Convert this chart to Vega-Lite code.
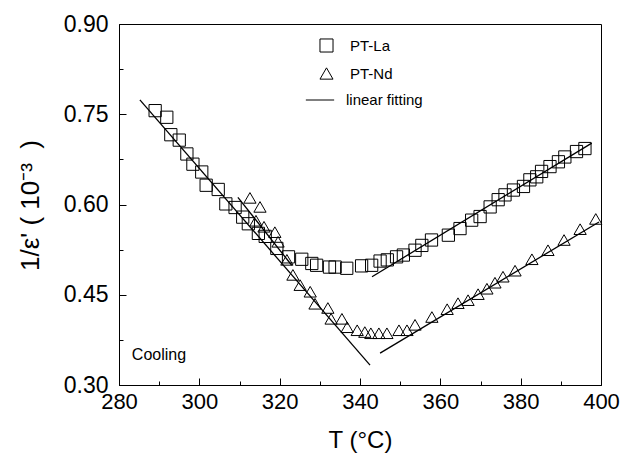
{
  "$schema": "https://vega.github.io/schema/vega-lite/v6.json",
  "width": 482,
  "height": 361,
  "autosize": "none",
  "padding": {"left": 119, "top": 24, "right": 30, "bottom": 78},
  "background": "white",
  "config": {
    "view": {"stroke": "black", "strokeWidth": 1},
    "font": "Liberation Sans",
    "axis": {"domainColor": "black", "tickColor": "black", "labelColor": "black", "titleColor": "black", "grid": false, "titleFontWeight": "normal", "labelFont": "Liberation Sans", "titleFont": "Liberation Sans"}
  },
  "datasets": {
    "pts": [
      {"T": 289.0, "V": 0.756, "s": "PT-La"}, {"T": 291.9, "V": 0.745, "s": "PT-La"}, {"T": 292.9, "V": 0.716, "s": "PT-La"},
      {"T": 295.0, "V": 0.707, "s": "PT-La"}, {"T": 296.9, "V": 0.684, "s": "PT-La"}, {"T": 298.4, "V": 0.667, "s": "PT-La"},
      {"T": 300.6, "V": 0.654, "s": "PT-La"}, {"T": 301.7, "V": 0.632, "s": "PT-La"}, {"T": 304.7, "V": 0.625, "s": "PT-La"},
      {"T": 306.6, "V": 0.601, "s": "PT-La"}, {"T": 308.9, "V": 0.595, "s": "PT-La"}, {"T": 310.8, "V": 0.579, "s": "PT-La"},
      {"T": 312.2, "V": 0.568, "s": "PT-La"}, {"T": 314.7, "V": 0.552, "s": "PT-La"}, {"T": 316.4, "V": 0.547, "s": "PT-La"},
      {"T": 319.3, "V": 0.527, "s": "PT-La"}, {"T": 322.2, "V": 0.513, "s": "PT-La"}, {"T": 325.5, "V": 0.509, "s": "PT-La"},
      {"T": 328.0, "V": 0.502, "s": "PT-La"}, {"T": 329.2, "V": 0.499, "s": "PT-La"}, {"T": 332.4, "V": 0.496, "s": "PT-La"},
      {"T": 333.8, "V": 0.496, "s": "PT-La"}, {"T": 336.7, "V": 0.494, "s": "PT-La"}, {"T": 340.4, "V": 0.498, "s": "PT-La"},
      {"T": 342.9, "V": 0.499, "s": "PT-La"}, {"T": 345.0, "V": 0.506, "s": "PT-La"}, {"T": 346.8, "V": 0.508, "s": "PT-La"},
      {"T": 349.1, "V": 0.513, "s": "PT-La"}, {"T": 350.8, "V": 0.516, "s": "PT-La"}, {"T": 353.7, "V": 0.524, "s": "PT-La"},
      {"T": 355.4, "V": 0.532, "s": "PT-La"}, {"T": 357.8, "V": 0.541, "s": "PT-La"}, {"T": 362.0, "V": 0.549, "s": "PT-La"},
      {"T": 364.9, "V": 0.560, "s": "PT-La"}, {"T": 367.8, "V": 0.574, "s": "PT-La"}, {"T": 369.9, "V": 0.580, "s": "PT-La"},
      {"T": 372.4, "V": 0.596, "s": "PT-La"}, {"T": 374.4, "V": 0.608, "s": "PT-La"}, {"T": 376.1, "V": 0.616, "s": "PT-La"},
      {"T": 378.2, "V": 0.624, "s": "PT-La"}, {"T": 380.7, "V": 0.630, "s": "PT-La"}, {"T": 382.3, "V": 0.641, "s": "PT-La"},
      {"T": 384.0, "V": 0.646, "s": "PT-La"}, {"T": 385.2, "V": 0.655, "s": "PT-La"}, {"T": 387.3, "V": 0.663, "s": "PT-La"},
      {"T": 389.4, "V": 0.671, "s": "PT-La"}, {"T": 391.0, "V": 0.679, "s": "PT-La"}, {"T": 393.9, "V": 0.688, "s": "PT-La"},
      {"T": 396.0, "V": 0.693, "s": "PT-La"},
      {"T": 312.6, "V": 0.611, "s": "PT-Nd"}, {"T": 315.1, "V": 0.596, "s": "PT-Nd"}, {"T": 314.1, "V": 0.573, "s": "PT-Nd"},
      {"T": 316.1, "V": 0.563, "s": "PT-Nd"}, {"T": 318.8, "V": 0.554, "s": "PT-Nd"}, {"T": 319.6, "V": 0.538, "s": "PT-Nd"},
      {"T": 321.8, "V": 0.508, "s": "PT-Nd"}, {"T": 323.3, "V": 0.483, "s": "PT-Nd"}, {"T": 325.1, "V": 0.466, "s": "PT-Nd"},
      {"T": 327.6, "V": 0.455, "s": "PT-Nd"}, {"T": 328.8, "V": 0.435, "s": "PT-Nd"}, {"T": 332.0, "V": 0.428, "s": "PT-Nd"},
      {"T": 332.8, "V": 0.410, "s": "PT-Nd"}, {"T": 335.5, "V": 0.410, "s": "PT-Nd"}, {"T": 336.8, "V": 0.396, "s": "PT-Nd"},
      {"T": 339.3, "V": 0.391, "s": "PT-Nd"}, {"T": 341.2, "V": 0.388, "s": "PT-Nd"}, {"T": 342.7, "V": 0.386, "s": "PT-Nd"},
      {"T": 344.7, "V": 0.386, "s": "PT-Nd"}, {"T": 346.7, "V": 0.386, "s": "PT-Nd"}, {"T": 349.7, "V": 0.391, "s": "PT-Nd"},
      {"T": 351.7, "V": 0.391, "s": "PT-Nd"}, {"T": 353.7, "V": 0.400, "s": "PT-Nd"}, {"T": 357.9, "V": 0.413, "s": "PT-Nd"},
      {"T": 361.7, "V": 0.426, "s": "PT-Nd"}, {"T": 364.4, "V": 0.436, "s": "PT-Nd"}, {"T": 366.9, "V": 0.441, "s": "PT-Nd"},
      {"T": 369.4, "V": 0.451, "s": "PT-Nd"}, {"T": 371.6, "V": 0.460, "s": "PT-Nd"}, {"T": 373.6, "V": 0.470, "s": "PT-Nd"},
      {"T": 375.6, "V": 0.480, "s": "PT-Nd"}, {"T": 378.6, "V": 0.490, "s": "PT-Nd"}, {"T": 382.8, "V": 0.509, "s": "PT-Nd"},
      {"T": 386.8, "V": 0.524, "s": "PT-Nd"}, {"T": 390.8, "V": 0.541, "s": "PT-Nd"}, {"T": 394.8, "V": 0.559, "s": "PT-Nd"},
      {"T": 398.7, "V": 0.576, "s": "PT-Nd"}
    ],
    "fits": [
      {"T": 285.2, "V": 0.774, "line": "a"}, {"T": 342.5, "V": 0.333, "line": "a"},
      {"T": 309.6, "V": 0.612, "line": "b"}, {"T": 323.0, "V": 0.499, "line": "b"},
      {"T": 343.0, "V": 0.480, "line": "c"}, {"T": 397.7, "V": 0.702, "line": "c"},
      {"T": 345.0, "V": 0.353, "line": "d"}, {"T": 399.5, "V": 0.571, "line": "d"}
    ],
    "notes": [
      {"T": 283.2, "V": 0.350, "label": "Cooling"}
    ]
  },
  "encoding": {
    "x": {
      "field": "T", "type": "quantitative",
      "scale": {"domain": [280, 400], "nice": false, "zero": false},
      "axis": {
        "values": [280, 290, 300, 310, 320, 330, 340, 350, 360, 370, 380, 390, 400],
        "labelExpr": "datum.value % 20 == 0 ? format(datum.value, 'd') : ''",
        "tickSize": {"condition": {"test": "datum.value % 20 == 0", "value": -7}, "value": -4},
        "labelPadding": 13,
        "labelFontSize": 22,
        "labelFlush": false,
        "title": "T (°C)",
        "titleFontSize": 24,
        "titleX": 241,
        "titleY": 55,
        "titleBaseline": "middle",
        "titleAlign": "center"
      }
    },
    "y": {
      "field": "V", "type": "quantitative",
      "scale": {"domain": [0.30, 0.90], "nice": false, "zero": false},
      "axis": {
        "values": [0.30, 0.375, 0.45, 0.525, 0.60, 0.675, 0.75, 0.825, 0.90],
        "labelExpr": "round(datum.value * 1000) % 150 == 0 ? format(datum.value, '.2f') : ''",
        "tickSize": {"condition": {"test": "round(datum.value * 1000) % 150 == 0", "value": -7}, "value": -4},
        "labelPadding": 18,
        "labelFontSize": 23,
        "labelFlush": false,
        "title": "1/ε'\u00a0(\u00a010⁻³\u00a0\u00a0)",
        "titleFontSize": 26,
        "titleX": -89,
        "titleY": 181,
        "titleBaseline": "middle",
        "titleAlign": "center"
      }
    }
  },
  "layer": [
    {
      "data": {"name": "fits"},
      "mark": {"type": "line", "strokeWidth": 1.3},
      "encoding": {
        "detail": {"field": "line", "type": "nominal"},
        "color": {
          "datum": "linear fitting", "type": "nominal",
          "scale": {"domain": ["linear fitting"], "range": ["black"]},
          "legend": {
            "orient": "none",
            "legendX": 186,
            "legendY": 61,
            "title": null,
            "symbolType": "stroke",
            "symbolSize": 800,
            "symbolStrokeWidth": 1,
            "labelFontSize": 15,
            "labelFont": "Liberation Sans",
            "labelColor": "black",
            "labelOffset": 11
          }
        }
      }
    },
    {
      "data": {"name": "pts"},
      "mark": {"type": "point", "filled": false, "color": "black", "strokeWidth": 1, "size": 150, "opacity": 1},
      "encoding": {
        "shape": {
          "field": "s", "type": "nominal",
          "scale": {"domain": ["PT-La", "PT-Nd"], "range": ["square", "triangle-up"]},
          "legend": {
            "orient": "none",
            "legendX": 200,
            "legendY": 14,
            "title": null,
            "labelFontSize": 15,
            "labelFont": "Liberation Sans",
            "labelColor": "black",
            "labelOffset": 16,
            "rowPadding": 10,
            "symbolStrokeColor": "black",
            "symbolStrokeWidth": 1,
            "symbolFillColor": "transparent",
            "symbolSize": 170,
            "symbolOpacity": 1
          }
        }
      }
    },
    {
      "data": {"name": "notes"},
      "mark": {"type": "text", "align": "left", "baseline": "middle", "fontSize": 16, "font": "Liberation Sans", "color": "black"},
      "encoding": {"text": {"field": "label", "type": "nominal"}}
    }
  ]
}
